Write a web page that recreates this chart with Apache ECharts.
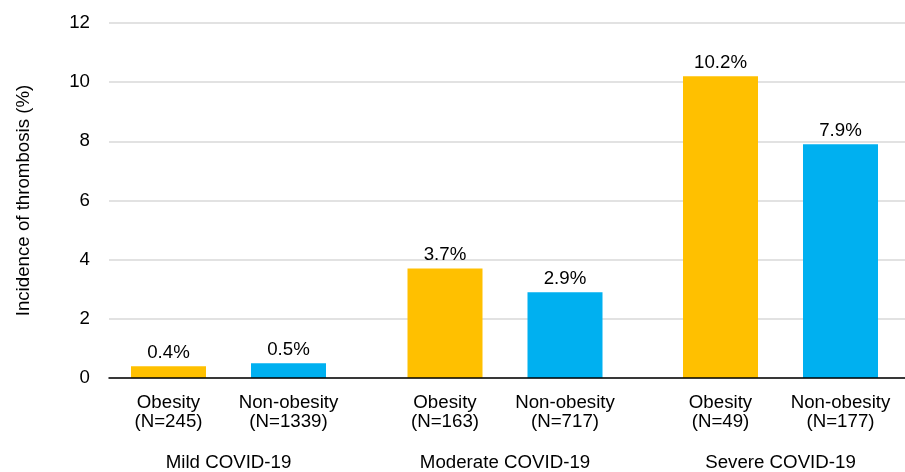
<!DOCTYPE html>
<html>
<head>
<meta charset="utf-8">
<script src="https://cdn.jsdelivr.net/npm/echarts@6/dist/echarts.min.js"></script>
<style>
  html, body { margin: 0; padding: 0; background: #fff; }
  #chart { width: 905px; height: 472px; }
</style>
</head>
<body>
<div id="chart"></div>
<script>
// Incidence of thrombosis by COVID-19 severity and obesity status
const groups = ['Mild COVID-19', 'Moderate COVID-19', 'Severe COVID-19'];
const obesityN = [245, 163, 49];
const nonObesityN = [1339, 717, 177];
const obesityPct = [0.4, 3.7, 10.2];
const nonObesityPct = [0.5, 2.9, 7.9];
const yTicks = [0, 2, 4, 6, 8, 10, 12];

const FONT = 'Liberation Sans, Arial, sans-serif';
const FS = 18.7;
const TEXT = '#000';
const OBESE_COLOR = '#FFC000';
const NONOBESE_COLOR = '#00B0F0';

const plotTop = 23, plotBottom = 94;
// left edges of the three group panels (each 240px wide)
const groupLeft = [108.5, 385, 660.5];
const groupWidth = 240;

const grids = [{ left: 109, right: 0, top: plotTop, bottom: plotBottom, outerBoundsMode: 'none' }];
const xAxes = [{
  gridIndex: 0, type: 'category', data: [''],
  axisLine: { show: true, lineStyle: { color: '#000', width: 1.5 } },
  axisTick: { show: false }, axisLabel: { show: false }, z: 5
}];
const yAxes = [{
  gridIndex: 0, type: 'value',
  min: yTicks[0], max: yTicks[yTicks.length - 1], interval: yTicks[1] - yTicks[0],
  axisLine: { show: false }, axisTick: { show: false },
  axisLabel: { color: TEXT, fontFamily: FONT, fontSize: FS, margin: 19, padding: [3, 0, 0, 0] },
  splitLine: { lineStyle: { color: '#D9D9D9', width: 1.5 } },
  name: 'Incidence of thrombosis (%)', nameLocation: 'middle', nameGap: 76,
  nameRotate: 90,
  nameTextStyle: { color: TEXT, fontFamily: FONT, fontSize: FS }
}];
const series = [];

groups.forEach((g, i) => {
  const gi = i + 1;
  grids.push({ left: groupLeft[i], width: groupWidth, top: plotTop, bottom: plotBottom, outerBoundsMode: 'none' });
  xAxes.push({
    gridIndex: gi, type: 'category',
    data: ['Obesity\n(N=' + obesityN[i] + ')', 'Non-obesity\n(N=' + nonObesityN[i] + ')'],
    axisLine: { show: false }, axisTick: { show: false },
    axisLabel: { color: TEXT, fontFamily: FONT, fontSize: FS, lineHeight: 19, margin: 15, interval: 0 },
    name: g, nameLocation: 'middle', nameGap: 75,
    nameTextStyle: { color: TEXT, fontFamily: FONT, fontSize: FS }
  });
  yAxes.push({ gridIndex: gi, type: 'value', min: 0, max: 12, show: false });
  series.push({
    type: 'bar', xAxisIndex: gi, yAxisIndex: gi, barWidth: 75,
    data: [
      { value: obesityPct[i], itemStyle: { color: OBESE_COLOR } },
      { value: nonObesityPct[i], itemStyle: { color: NONOBESE_COLOR } }
    ],
    label: {
      show: true, position: 'top', distance: 4,
      color: TEXT, fontFamily: FONT, fontSize: FS,
      formatter: p => p.value + '%'
    }
  });
});

const chart = echarts.init(document.getElementById('chart'), null, { renderer: 'canvas' });
chart.setOption({
  animation: false,
  backgroundColor: '#fff',
  grid: grids, xAxis: xAxes, yAxis: yAxes, series: series
});
</script>
</body>
</html>
